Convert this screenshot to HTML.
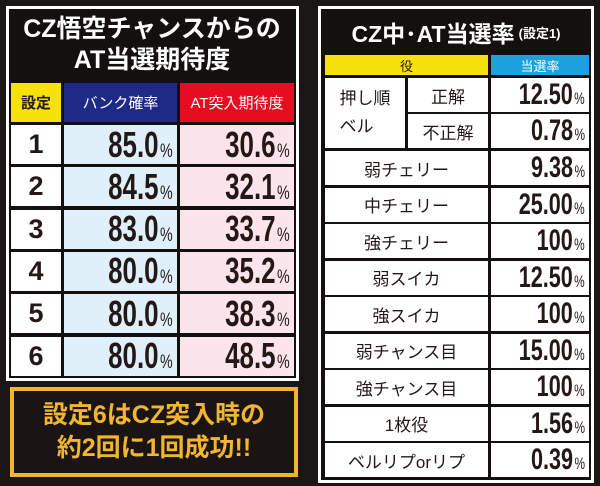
<!DOCTYPE html>
<html><head><meta charset="utf-8"><style>
*{margin:0;padding:0;box-sizing:border-box}
body{width:600px;height:486px;background:#1a1616;position:relative;overflow:hidden;font-family:"Liberation Sans","Noto Sans CJK JP",sans-serif}
.a{position:absolute;display:flex;align-items:center;justify-content:center}
.fr{position:absolute;border:3px solid #fff;background:#141010}
.t{color:#fff;font-weight:bold}
.n{color:#231815;justify-content:flex-end;font-weight:bold}
.n span{display:inline-block;transform:scaleX(0.72);transform-origin:right center;white-space:nowrap}
.n small{font-size:0.55em;margin-left:2px;font-weight:normal}
.l{color:#231815;font-size:17px}
</style></head><body>
<div class="fr" style="left:6px;top:6px;width:293px;height:375px"></div>
<div class="a t" style="left:10px;top:12px;width:284px;height:66px;font-size:25px;line-height:31px;text-align:center;flex-direction:column">CZ悟空チャンスからの<br>AT当選期待度</div>
<div class="a" style="left:11px;top:83px;width:50px;height:39px;background:#f5e20b;font-size:15px;font-weight:bold;color:#231815">設定</div>
<div class="a" style="left:64px;top:83px;width:113px;height:39px;background:#1f2a86;font-size:15px;color:#fff">バンク確率</div>
<div class="a" style="left:180px;top:83px;width:114px;height:39px;background:#e50d1f;font-size:15px;color:#fff">AT突入期待度</div>
<div id="L"></div>
<div class="a" style="left:10px;top:387px;width:288px;height:90px;border:4px solid #f1b52e;background:#1a1414;color:#f1b52e;font-weight:bold;font-size:25px;line-height:33px;text-align:center;flex-direction:column">設定6はCZ突入時の<br>約2回に1回成功!!</div>

<div class="fr" style="left:318px;top:6px;width:276px;height:477px"></div>
<div class="a t" style="left:322px;top:12px;width:268px;height:40px;font-size:23px">CZ中･AT当選率<span style="font-size:13px;margin-left:4px">(設定1)</span></div>
<div class="a" style="left:325px;top:55px;width:163px;height:20px;background:#f5e20b;font-size:13px;color:#231815">役</div>
<div class="a" style="left:491px;top:55px;width:98px;height:20px;background:#1ca0de;font-size:13px;color:#fff">当選率</div>
<div class="a l" style="left:325px;top:78px;width:80px;height:70px;background:#fff;line-height:28px;flex-direction:column">押し順<br>ベル</div>
<div id="R"></div>
<script>
var L=[["1","85.0","30.6"],["2","84.5","32.1"],["3","83.0","33.7"],["4","80.0","35.2"],["5","80.0","38.3"],["6","80.0","48.5"]],h="";
L.forEach(function(r,i){var y=125+i*42.3;
h+='<div class="a" style="left:11px;top:'+y+'px;width:50px;height:39px;background:#fff;font-size:27px;font-weight:bold;color:#231815">'+r[0]+'</div>';
h+='<div class="a n" style="left:64px;top:'+y+'px;width:113px;height:39px;background:#dff0fb;font-size:36px;padding-right:4px"><span>'+r[1]+'<small>%</small></span></div>';
h+='<div class="a n" style="left:180px;top:'+y+'px;width:114px;height:39px;background:#fce4ec;font-size:36px;padding-right:4px"><span>'+r[2]+'<small>%</small></span></div>';});
document.getElementById("L").outerHTML=h;
var R=[["正解","12.50"],["不正解","0.78"]],g="";
R.forEach(function(r,i){var y=78+i*36;
g+='<div class="a l" style="left:408px;top:'+y+'px;width:80px;height:34px;background:#fff">'+r[0]+'</div>';
g+='<div class="a n" style="left:491px;top:'+y+'px;width:98px;height:34px;background:#fff;font-size:30px;padding-right:4px"><span>'+r[1]+'<small>%</small></span></div>';});
var S=[["弱チェリー","9.38"],["中チェリー","25.00"],["強チェリー","100"],["弱スイカ","12.50"],["強スイカ","100"],["弱チャンス目","15.00"],["強チャンス目","100"],["1枚役","1.56"],["ベルリプorリプ","0.39"]];
S.forEach(function(r,i){var y=151+i*36.5;
g+='<div class="a l" style="left:325px;top:'+y+'px;width:163px;height:34px;background:#fff">'+r[0]+'</div>';
g+='<div class="a n" style="left:491px;top:'+y+'px;width:98px;height:34px;background:#fff;font-size:30px;padding-right:4px"><span>'+r[1]+'<small>%</small></span></div>';});
document.getElementById("R").outerHTML=g;
</script>
</body></html>
